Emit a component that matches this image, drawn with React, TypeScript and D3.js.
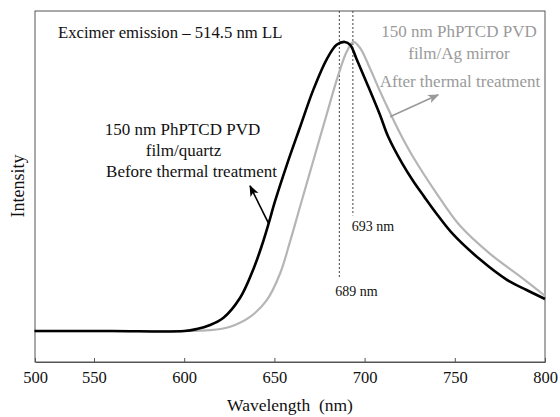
import { useEffect, useRef } from 'react';
import * as d3 from 'd3';

// before thermal treatment (film/quartz) - black curve
const wlBefore = [517, 560, 600, 607, 614, 621.8, 631, 638.4, 643, 646.7, 650.4, 656.9, 664.2, 671.6, 679, 684.5, 689, 692, 695.6, 701.2, 708.5, 713.1, 721, 727, 733, 740, 749, 763.9, 778.7, 789.8, 800];
const intBefore = [0, 0, 0, 0.007, 0.02, 0.046, 0.115, 0.215, 0.295, 0.37, 0.45, 0.575, 0.705, 0.835, 0.94, 0.99, 1.0, 0.99, 0.94, 0.858, 0.748, 0.672, 0.578, 0.518, 0.465, 0.405, 0.335, 0.248, 0.178, 0.142, 0.111];

// after thermal treatment (film/Ag mirror) - grey curve
const wlAfter = [517, 560, 597.8, 614.4, 625.5, 636.5, 645.8, 653.2, 658.7, 664.2, 671.6, 679, 685.4, 690, 693.7, 697.4, 702.9, 708.5, 714.1, 720, 726.8, 739.5, 752.8, 769.4, 786, 800];
const intAfter = [0, 0, 0, 0.003, 0.015, 0.049, 0.107, 0.2, 0.31, 0.43, 0.59, 0.75, 0.885, 0.965, 1.0, 0.98, 0.91, 0.83, 0.755, 0.68, 0.603, 0.48, 0.365, 0.268, 0.19, 0.122];

// axis starts a bit after 500 but the first label still says 500
const xTickValues = [517.3, 550, 600, 650, 700, 750, 800];
const xTickLabels = ['500', '550', '600', '650', '700', '750', '800'];

// dotted peak markers: where they are drawn, and what they say
const peakPositions = [686, 693.5];
const peakLabels = ['689 nm', '693 nm'];
const peakLineEnds = [0.18, 0.40];

const FONT = "'Liberation Serif', 'Times New Roman', 'DejaVu Serif', serif";

const App = () => {
  const svgRef = useRef<SVGSVGElement>(null);

  useEffect(() => {
    const width = 560;
    const height = 417;
    const margin = { top: 11, right: 15, bottom: 55, left: 35 };

    const svg = d3.select(svgRef.current);
    svg.selectAll('*').remove();
    svg.attr('width', width).attr('height', height).style('font-family', FONT);

    const x = d3.scaleLinear().domain([517.3, 800]).range([margin.left, width - margin.right]);
    const y = d3.scaleLinear().domain([-0.107, 1.107]).range([height - margin.bottom, margin.top]);

    const line = d3
      .line<[number, number]>()
      .x((d) => x(d[0]))
      .y((d) => y(d[1]))
      .curve(d3.curveCatmullRom.alpha(0.5));

    // frame
    svg
      .append('rect')
      .attr('x', margin.left)
      .attr('y', margin.top)
      .attr('width', width - margin.left - margin.right)
      .attr('height', height - margin.top - margin.bottom)
      .attr('fill', 'none')
      .attr('stroke', '#555')
      .attr('stroke-width', 1);

    // x axis
    const axis = svg
      .append('g')
      .attr('transform', `translate(0,${height - margin.bottom})`)
      .call(
        d3
          .axisBottom(x)
          .tickValues(xTickValues)
          .tickFormat((_d, i) => xTickLabels[i])
          .tickSizeInner(-4)
          .tickSizeOuter(0)
          .tickPadding(9)
      );
    axis.attr('font-family', null);
    axis.select('.domain').attr('stroke', '#555');
    axis.selectAll('.tick line').attr('stroke', '#555');
    axis.selectAll('.tick text').style('font-family', FONT).attr('font-size', 16.5).attr('fill', '#111');

    // dotted peak markers
    peakPositions.forEach((p, i) => {
      svg
        .append('line')
        .attr('x1', x(p))
        .attr('x2', x(p))
        .attr('y1', margin.top)
        .attr('y2', y(peakLineEnds[i]))
        .attr('stroke', '#444')
        .attr('stroke-width', 1)
        .attr('stroke-dasharray', '2,2');
      svg
        .append('text')
        .attr('x', x(p) + (i === 0 ? 17 : 20))
        .attr('y', y(peakLineEnds[i]) + (i === 0 ? 17 : 16))
        .attr('text-anchor', 'middle')
        .style('font-family', FONT)
        .attr('font-size', 14)
        .attr('fill', '#111')
        .text(peakLabels[i]);
    });

    // curves
    svg
      .append('path')
      .datum(wlAfter.map((w, i) => [w, intAfter[i]] as [number, number]))
      .attr('d', line)
      .attr('fill', 'none')
      .attr('stroke', '#b5b5b5')
      .attr('stroke-width', 2.2);

    svg
      .append('path')
      .datum(wlBefore.map((w, i) => [w, intBefore[i]] as [number, number]))
      .attr('d', line)
      .attr('fill', 'none')
      .attr('stroke', '#000')
      .attr('stroke-width', 2.6);

    // arrow markers
    const defs = svg.append('defs');
    [['arrowBlack', '#000'], ['arrowGrey', '#999']].forEach(([id, color]) => {
      defs
        .append('marker')
        .attr('id', id)
        .attr('viewBox', '0 0 10 10')
        .attr('refX', 9)
        .attr('refY', 5)
        .attr('markerWidth', 7)
        .attr('markerHeight', 7)
        .attr('orient', 'auto')
        .append('path')
        .attr('d', 'M0,1 L10,5 L0,9 L2.5,5 Z')
        .attr('fill', color);
    });

    svg
      .append('line')
      .attr('x1', x(646.7))
      .attr('y1', y(0.373))
      .attr('x2', x(636.5))
      .attr('y2', y(0.502))
      .attr('stroke', '#000')
      .attr('stroke-width', 1.6)
      .attr('marker-end', 'url(#arrowBlack)');

    svg
      .append('line')
      .attr('x1', x(714.1))
      .attr('y1', y(0.741))
      .attr('x2', x(740.8))
      .attr('y2', y(0.817))
      .attr('stroke', '#999')
      .attr('stroke-width', 1.6)
      .attr('marker-end', 'url(#arrowGrey)');

    // text annotations
    const addText = (tx: number, ty: number, str: string, color: string, anchor = 'middle', size = 17) =>
      svg
        .append('text')
        .attr('x', tx)
        .attr('y', ty)
        .attr('text-anchor', anchor)
        .style('font-family', FONT)
        .attr('font-size', size)
        .attr('fill', color)
        .text(str);

    addText(58, 38, 'Excimer emission – 514.5 nm LL', '#111', 'start', 16.7);

    addText(182.5, 135, '150 nm PhPTCD PVD', '#111');
    addText(183.5, 156, 'film/quartz', '#111');
    addText(191.5, 177, 'Before thermal treatment', '#111');

    addText(459, 37, '150 nm PhPTCD PVD', '#9a9a9a');
    addText(459, 59, 'film/Ag mirror', '#9a9a9a');
    addText(460, 87, 'After thermal treatment', '#9a9a9a');

    // axis titles
    addText(290, 411, 'Wavelength  (nm)', '#111', 'middle', 17.5).style('white-space', 'pre');
    svg
      .append('text')
      .attr('transform', 'translate(24,186) rotate(-90)')
      .attr('text-anchor', 'middle')
      .style('font-family', FONT)
      .attr('font-size', 18)
      .attr('fill', '#111')
      .text('Intensity');
  }, []);

  return (
    <div style={{ position: 'absolute', left: 0, top: 0 }}>
      <svg ref={svgRef} style={{ display: 'block', background: '#fff' }}></svg>
    </div>
  );
};

export default App;
